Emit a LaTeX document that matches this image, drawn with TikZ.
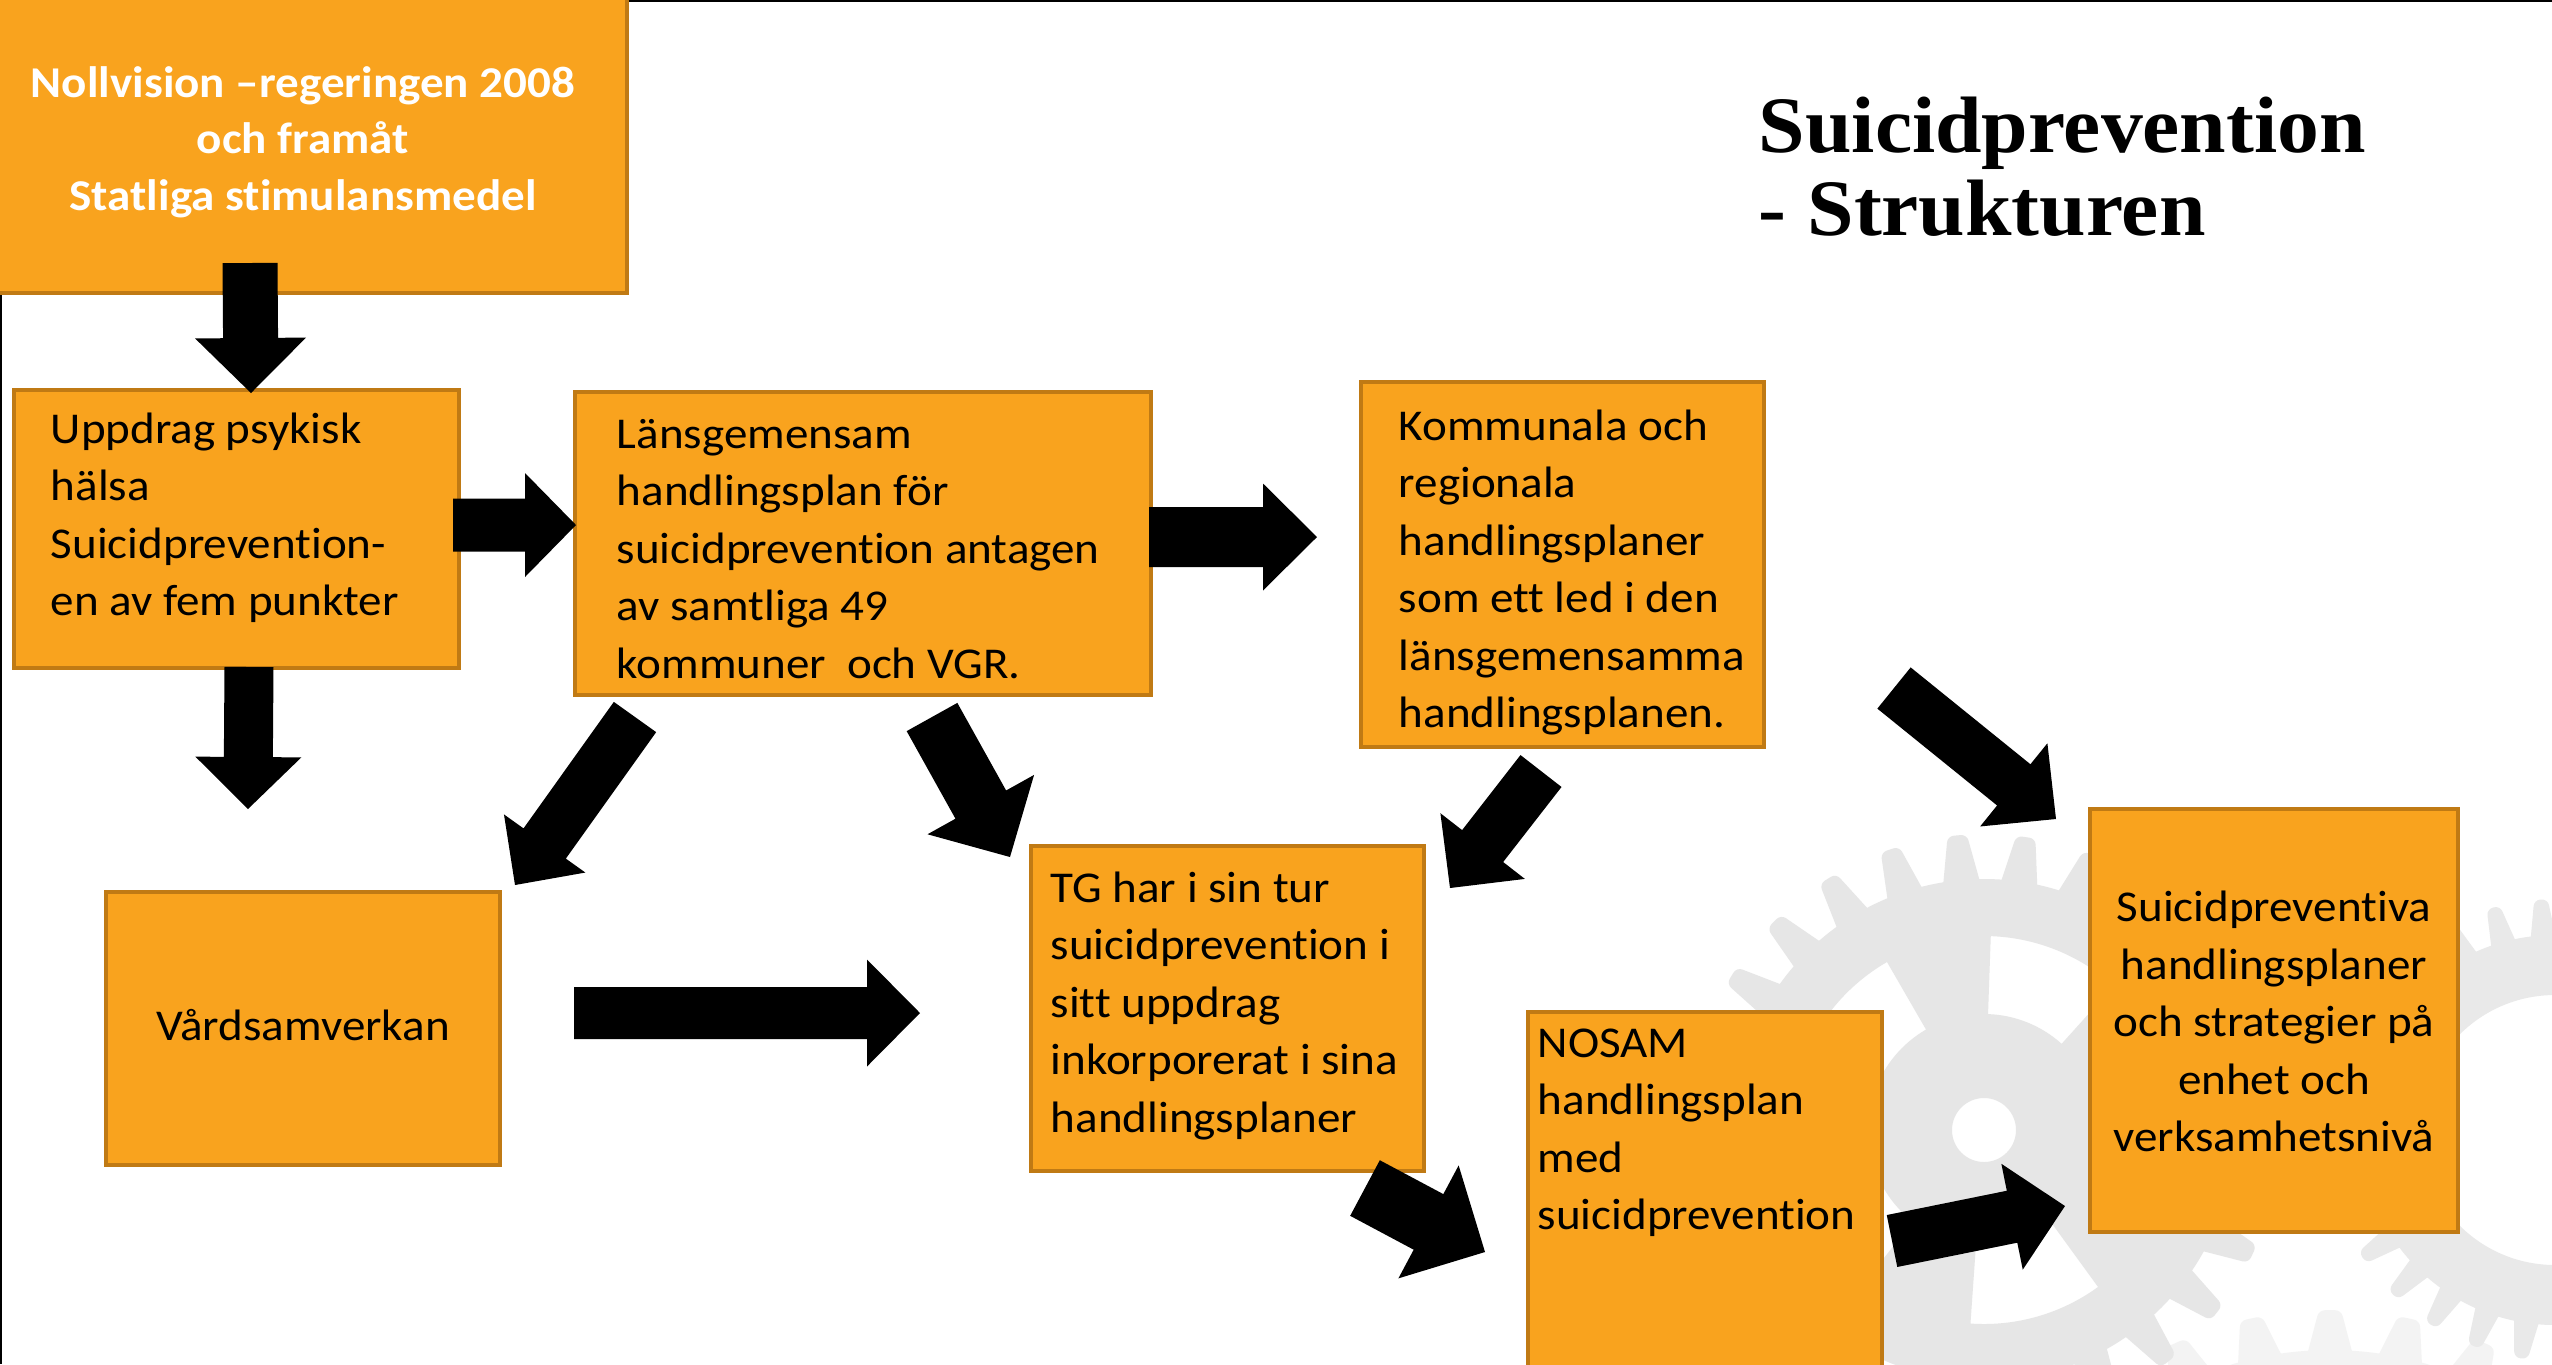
\documentclass[tikz,border=0pt]{standalone}
\usepackage{fontspec}
\setmainfont{Carlito}[FakeStretch=1.07, Ligatures={NoCommon}]
\newfontfamily\titlefont{Liberation Serif}[FakeStretch=1.045]
\usetikzlibrary{calc}
\definecolor{boxfill}{RGB}{249,163,30}
\definecolor{boxline}{RGB}{192,122,20}
\definecolor{gearA}{RGB}{230,230,230}
\definecolor{gearB}{RGB}{233,233,233}
\definecolor{gearC}{RGB}{243,243,243}
\newcommand\txtlines[2]{\begin{tabular}[t]{@{}#1@{}}#2\end{tabular}}
% block arrow: tail coord, tip coord, shaft width, head width, head length (px)
\newcommand\barrow[5]{%
  \fill[arrowfill] let \p1=(#1), \p2=(#2),
    \n1={atan2(\y2-\y1,\x2-\x1)},
    \n2={veclen(\x2-\x1,\y2-\y1)-#5*0.25pt} in
    ($(\p1)+(\n1+90:#3*0.125pt)$) --
    ($(\p1)+(\n1:\n2)+(\n1+90:#3*0.125pt)$) --
    ($(\p1)+(\n1:\n2)+(\n1+90:#4*0.125pt)$) --
    (\p2) --
    ($(\p1)+(\n1:\n2)+(\n1-90:#4*0.125pt)$) --
    ($(\p1)+(\n1:\n2)+(\n1-90:#3*0.125pt)$) --
    ($(\p1)+(\n1-90:#3*0.125pt)$) -- cycle;}
% box: name, x1, y1, x2, y2 (px)
\newcommand\mkbox[5]{\node[box, minimum width={(#4-#2)*0.25pt}, minimum height={(#5-#3)*0.25pt}] (#1) at ({(#2+#4)/2},{(#3+#5)/2}) {};}
% gear teeth: cx, cy, N, start angle, root r (pt), tip r (pt), colour
\newcommand\gearteeth[7]{%
  \foreach \i in {1,...,#3} {
    \pgfmathsetmacro\ga{#4+360/#3*\i}
    \pgfmathsetmacro\gr{0.345*360/#3}
    \pgfmathsetmacro\gt{0.14*360/#3}
    \fill[#7, rounded corners=1.5pt] ($(#1,#2)+(\ga-\gr:#5pt-2pt)$) -- ($(#1,#2)+(\ga-\gt:#6pt)$) -- ($(#1,#2)+(\ga+\gt:#6pt)$) -- ($(#1,#2)+(\ga+\gr:#5pt-2pt)$) -- cycle;
  }}
\tikzset{
  box/.style={draw=boxline, fill=boxfill, line width=1pt, inner sep=0pt, outer sep=0pt},
  txt/.style={inner sep=0pt, font=\fontsize{11}{14.375}\selectfont, text=black},
  wtxt/.style={inner sep=0pt, font=\fontsize{11}{14.125}\selectfont\bfseries, text=white},
  ttl/.style={inner sep=0pt, font=\titlefont\bfseries\fontsize{20}{20.75}\selectfont},
  arrowfill/.style={fill=black},
}
\begin{document}
\begin{tikzpicture}[x=0.25pt,y=-0.25pt]
\useasboundingbox (0,0) rectangle (2552,1364);
\clip (0,0) rectangle (2552,1364);
\fill[white] (0,0) rectangle (2552,1364);
% background gears
\fill[gearC] (2330,1690) circle[radius=85pt];
\gearteeth{2330}{1690}{30}{90}{85}{95}{gearC}
\fill[gearA, even odd rule] (1984,1130) circle[radius=62.75pt]
  \foreach \a in {120,192,266,336,408} {
    ($(1984,1130)+(\a:29pt)$) arc[start angle=\a, end angle=\a+40, radius=29pt]
    -- ($(1984,1130)+(\a+40:48.5pt)$) arc[start angle=\a+40, end angle=\a, radius=48.5pt] -- cycle }
  (1984,1130) circle[radius=8pt];
\gearteeth{1984}{1130}{27}{95.2}{62.75}{74}{gearA}
\fill[gearB, even odd rule] (2555,1130) circle[radius=48.75pt] (2555,1130) circle[radius=33.75pt];
\gearteeth{2555}{1130}{30}{93.5}{48.75}{57.75}{gearB}
% frame
\draw[line width=1pt] (0,1364) -- (0,0) -- (2552,0);
% boxes
\mkbox{noll}{-22}{-10}{627}{293}
\mkbox{upp}{14}{390}{459}{668}
\mkbox{lans}{575}{392}{1151}{695}
\mkbox{komm}{1361}{382}{1764}{747}
\mkbox{vard}{106}{892}{500}{1165}
\mkbox{tg}{1031}{846}{1424}{1171}
\mkbox{nosam}{1528}{1012}{1882}{1420}
\mkbox{suic}{2090}{809}{2458}{1232}
% texts
\node[wtxt, anchor=base] (nollt) at (303,97) {\txtlines{c}{Nollvision –regeringen 2008\\och framåt\\Statliga stimulansmedel}};
\node[txt, anchor=base west] (uppt) at (50,443) {\txtlines{l}{Uppdrag psykisk\\hälsa\\Suicidprevention-\\en av fem punkter}};
\node[txt, anchor=base west] (lanst) at (616,448) {\txtlines{l}{Länsgemensam\\handlingsplan för\\suicidprevention antagen\\av samtliga 49\\kommuner\ \ och VGR.}};
\node[txt, anchor=base west] (kommt) at (1398,440) {\txtlines{l}{Kommunala och\\regionala\\handlingsplaner\\som ett led i den\\länsgemensamma\\handlingsplanen.}};
\node[txt, anchor=base] (vardt) at (303,1040) {Vårdsamverkan};
\node[txt, anchor=base west] (tgt) at (1050,902) {\txtlines{l}{TG har i sin tur\\suicidprevention i\\sitt uppdrag\\inkorporerat i sina\\handlingsplaner}};
\node[txt, anchor=base west] (nosamt) at (1537,1057) {\txtlines{l}{NOSAM\\handlingsplan\\med\\suicidprevention}};
\node[txt, anchor=base] (suict) at (2274,921.5) {\txtlines{c}{Suicidpreventiva\\handlingsplaner\\och strategier på\\enhet och\\verksamhetsnivå}};
\node[ttl, anchor=base west] (title) at (1758,152) {\txtlines{l}{Suicidprevention\\- Strukturen}};
% arrows
\coordinate (a1s) at (250,263);  \coordinate (a1e) at (251,393);
\coordinate (a2s) at (249,667);  \coordinate (a2e) at (248,809);
\coordinate (a3s) at (453,525);  \coordinate (a3e) at (576,525);
\coordinate (a4s) at (1149,537); \coordinate (a4e) at (1317,537);
\coordinate (a5s) at (635,717);  \coordinate (a5e) at (515,885);
\coordinate (a6s) at (932,717);  \coordinate (a6e) at (1010,857);
\coordinate (a7s) at (1541,771); \coordinate (a7e) at (1450,888);
\coordinate (a8s) at (1894,688); \coordinate (a8e) at (2056,819);
\coordinate (a9s) at (574,1013); \coordinate (a9e) at (920,1013);
\coordinate (a10s) at (1365,1188); \coordinate (a10e) at (1485,1252);
\coordinate (a11s) at (1892,1241); \coordinate (a11e) at (2065,1206);
\barrow{a1s}{a1e}{55}{111}{55}
\barrow{a2s}{a2e}{49}{106}{52}
\barrow{a3s}{a3e}{53}{104}{51}
\barrow{a4s}{a4e}{60}{107}{54}
\barrow{a5s}{a5e}{52}{100}{51}
\barrow{a6s}{a6e}{58}{122}{60}
\barrow{a7s}{a7e}{52}{107}{53}
\barrow{a8s}{a8e}{53}{107}{54}
\barrow{a9s}{a9e}{52}{107}{53}
\barrow{a10s}{a10e}{63}{128}{64}
\barrow{a11s}{a11e}{53}{108}{54}
\end{tikzpicture}
\end{document}
